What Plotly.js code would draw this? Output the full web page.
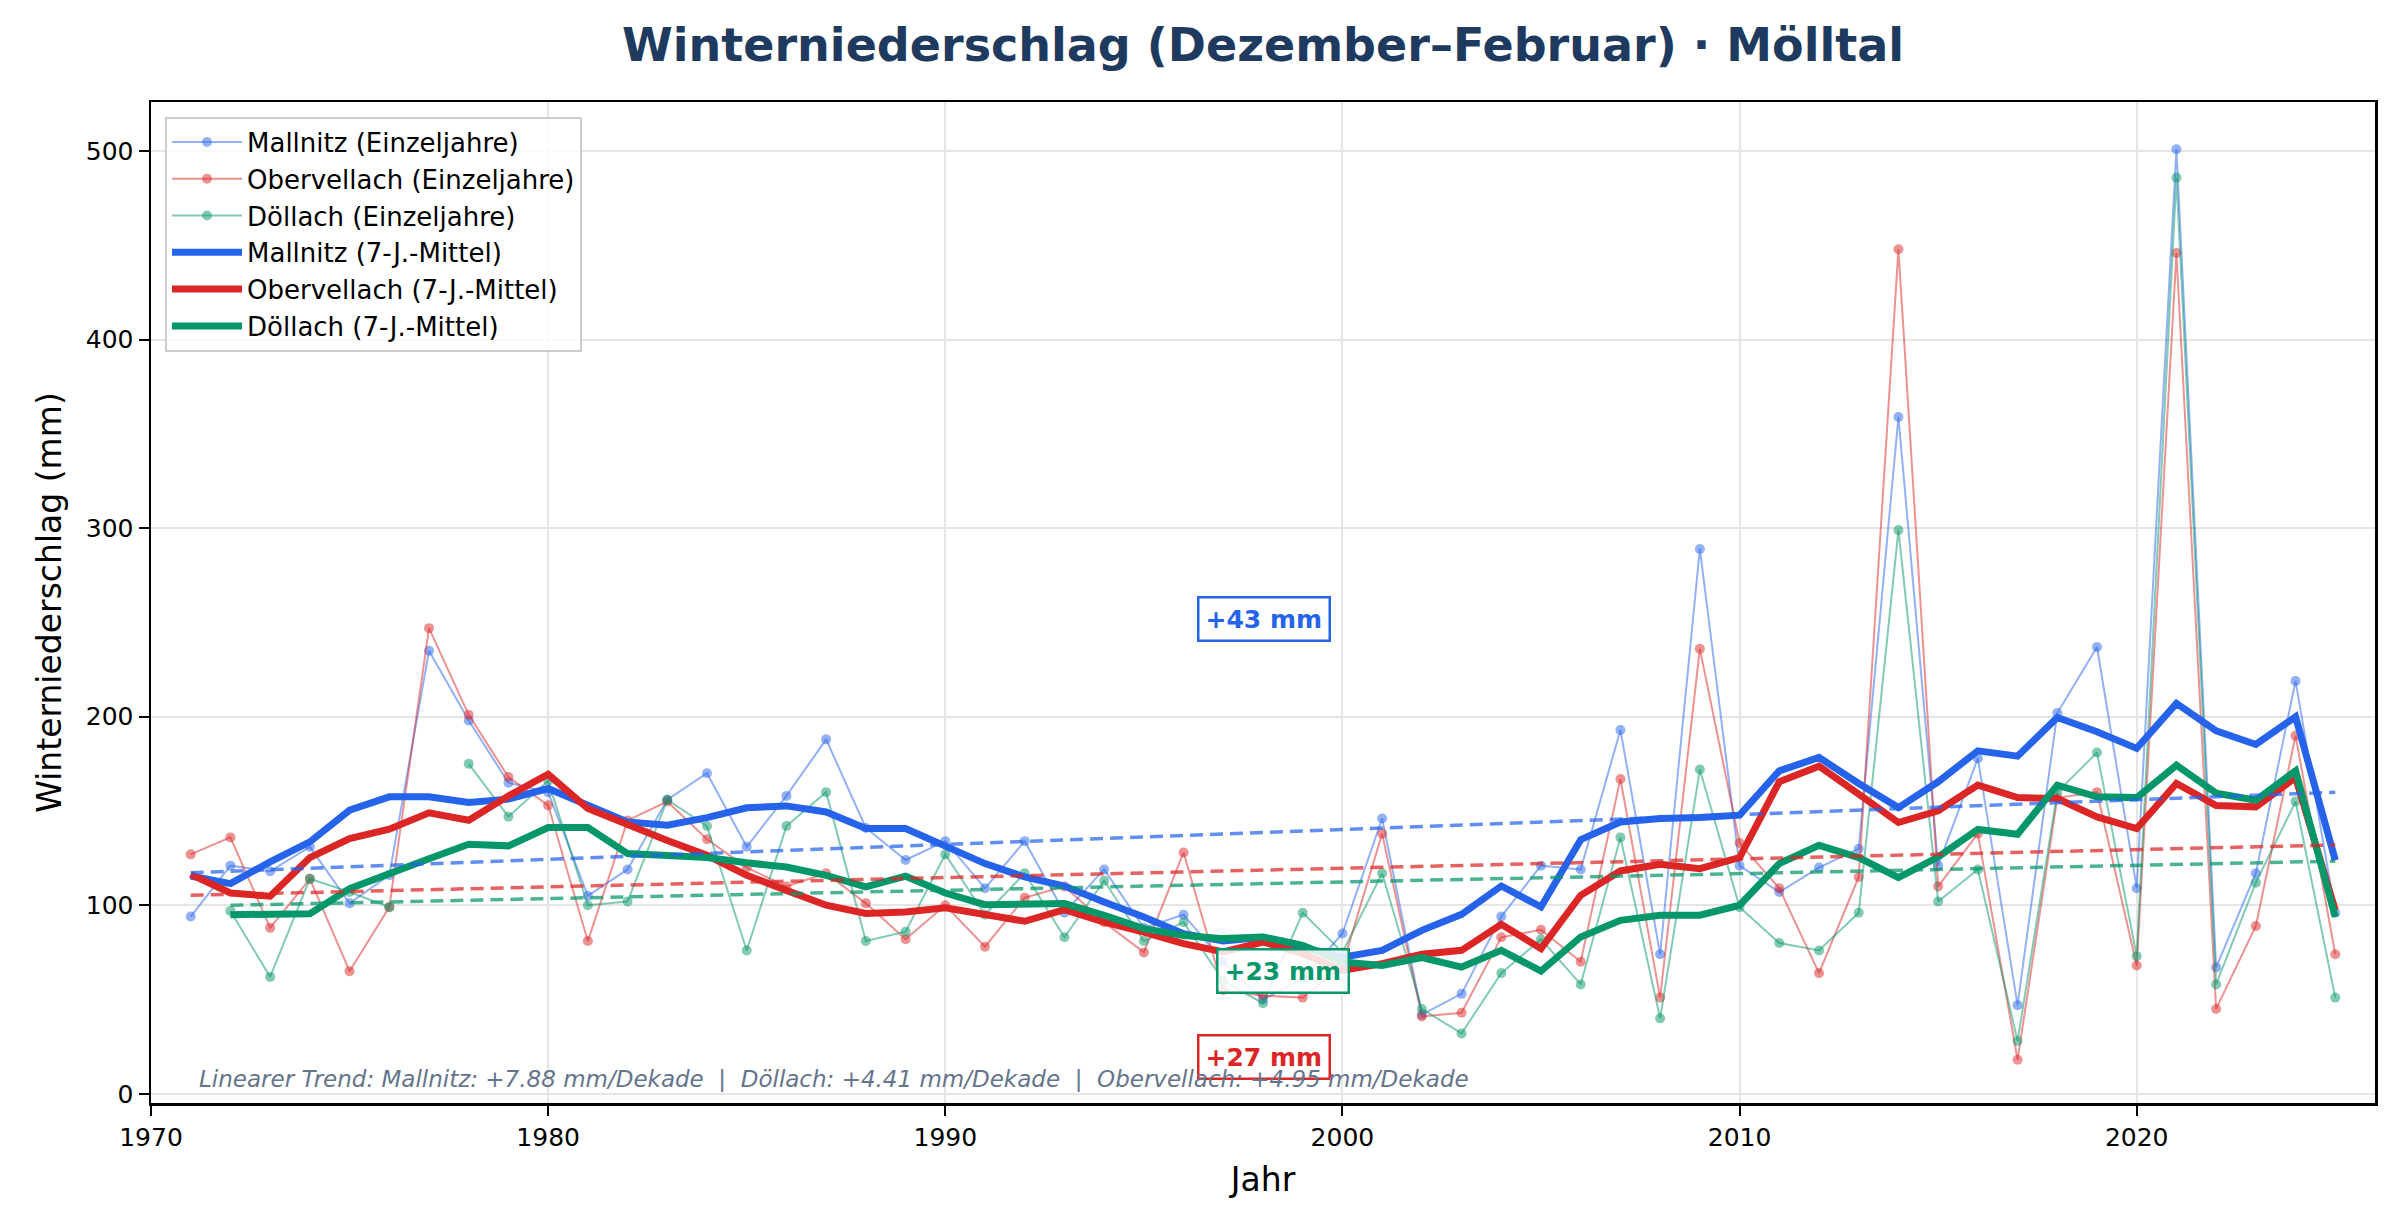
<!DOCTYPE html>
<html>
<head>
<meta charset="utf-8">
<script src="https://cdn.plot.ly/plotly-3.0.1.min.js"></script>
<style>html,body{margin:0;padding:0;background:#fff;}#chart{width:2398px;height:1231px;}</style>
</head>
<body>
<div id="chart"></div>
<script>
const years = [1971,1972,1973,1974,1975,1976,1977,1978,1979,1980,1981,1982,1983,1984,1985,1986,1987,1988,1989,1990,1991,1992,1993,1994,1995,1996,1997,1998,1999,2000,2001,2002,2003,2004,2005,2006,2007,2008,2009,2010,2011,2012,2013,2014,2015,2016,2017,2018,2019,2020,2021,2022,2023,2024,2025];

const mallnitz = [94,121,118,131,101,116,235,198,165,160,105,119,156,170,131,158,188,141,124,134,109,134,96,119,88,95,70,50,61,85,146,42,53,94,121,119,193,74,289,121,107,120,130,359,121,178,47,202,237,109,501,67,117,219,96];
const obervellach = [127,136,88,114,65,99,247,201,168,153,81,145,155,135,120,110,117,101,82,100,78,104,110,91,75,128,55,52,51,68,138,41,43,83,87,70,167,51,236,133,109,64,115,448,110,138,18,157,160,68,446,45,89,190,74];
const doellach = [null,97,62,114,107,99,null,175,147,166,100,102,156,142,76,142,160,81,86,127,95,117,83,113,81,91,60,48,96,75,117,45,32,64,82,58,136,40,172,99,80,76,96,299,102,119,28,160,181,73,486,58,112,155,51];

const mallnitzMA = [115.5,111.5,123,133.6,150.4,157.5,157.5,154.5,156.3,161.9,153.1,144.2,142.5,146.5,151.7,152.7,149.5,140.7,140.7,131.8,122.1,115,110.2,101.7,93.8,84.9,81,83,78,72.5,76,86.7,95.2,110.2,99.1,134.8,144.2,146,146.5,147.8,171.3,178.4,164.6,151.8,165.5,181.9,179.1,199.6,192,183.2,207.1,192.5,185.3,200,123.9];
const obervellachMA = [116.4,106.5,104.8,125.3,135.4,140.3,149,145.1,158,169.5,151.3,142.5,134.3,126.5,115.9,107.9,100,95.6,96.4,98.7,95.2,91.5,97.7,91.1,85.8,79.6,75.2,80.5,74.3,65.5,69,74,76.1,89.9,77,105.3,118.2,121.7,119.4,125.3,165.5,173.8,158.9,143.9,150.1,163.7,157.1,156.6,146.9,140.7,164.6,152.9,152.2,167.8,97.3];
const doellachMA = [null,95,95.2,95.5,108.8,117.1,124.7,132.4,131.5,141.2,141.2,127.4,126.5,125.3,122.5,120.3,115.9,109.7,115.4,106.5,100.3,100.3,100.9,94.7,87.6,84,82.3,83.2,78.7,69.9,68.1,72.2,67.2,76.1,65.1,83.2,92,94.7,94.7,100,122.1,131.8,125.3,114.7,125.6,140.2,137.7,163.7,157.5,157.1,174.3,159.5,155.7,171.3,93.8];

// linear trend lines (start / end values)
const trendMallnitzX = [1971, 2025], trendMallnitzY = [117.3, 159.9];
const trendObervellachX = [1971, 2025], trendObervellachY = [105.3, 132.0];
const trendDoellachX = [1972, 2025], trendDoellachY = [100.0, 123.4];

const trendLabels = ['+43 mm', '+23 mm', '+27 mm'];
const trendText = 'Linearer Trend: Mallnitz: +7.88 mm/Dekade\u00a0\u00a0|\u00a0\u00a0Döllach: +4.41 mm/Dekade\u00a0\u00a0|\u00a0\u00a0Obervellach: +4.95 mm/Dekade';

const C = {blue:'#2563eb', red:'#dc2626', green:'#059669'};
const A = {blue:'rgba(37,99,235,0.5)', red:'rgba(220,38,38,0.5)', green:'rgba(5,150,105,0.5)'};
const T = {blue:'rgba(37,99,235,0.72)', red:'rgba(220,38,38,0.72)', green:'rgba(5,150,105,0.72)'};
const FONT = 'DejaVu Sans, Verdana, sans-serif';

function single(name, y, col) {
  return {x: years, y: y, name: name, type: 'scatter', mode: 'lines+markers',
    line: {color: col, width: 2}, marker: {color: col, size: 10},
    connectgaps: false, hoverinfo: 'skip'};
}
function ma(name, y, col) {
  return {x: years, y: y, name: name, type: 'scatter', mode: 'lines',
    line: {color: col, width: 7}, hoverinfo: 'skip'};
}
function trend(x, y, col) {
  return {x: x, y: y, type: 'scatter', mode: 'lines', showlegend: false,
    line: {color: col, width: 3.5, dash: '13px,7px'}, hoverinfo: 'skip'};
}

const data = [
  single('Mallnitz (Einzeljahre)', mallnitz, A.blue),
  single('Obervellach (Einzeljahre)', obervellach, A.red),
  single('Döllach (Einzeljahre)', doellach, A.green),
  ma('Mallnitz (7-J.-Mittel)', mallnitzMA, C.blue),
  ma('Obervellach (7-J.-Mittel)', obervellachMA, C.red),
  ma('Döllach (7-J.-Mittel)', doellachMA, C.green),
  trend(trendMallnitzX, trendMallnitzY, T.blue),
  trend(trendObervellachX, trendObervellachY, T.red),
  trend(trendDoellachX, trendDoellachY, T.green)
];

function box(text, x, y, col) {
  return {x: x, y: y, xref: 'x', yref: 'y', text: '<b>' + text + '</b>', showarrow: false,
    font: {family: FONT, size: 25, color: col}, bgcolor: 'rgba(255,255,255,0.85)',
    bordercolor: col, borderwidth: 2.5, borderpad: 6, xanchor: 'center', yanchor: 'middle'};
}

const layout = {
  width: 2398, height: 1231,
  paper_bgcolor: '#ffffff', plot_bgcolor: '#ffffff',
  margin: {l: 151, r: 23, t: 102, b: 128},
  font: {family: FONT, size: 25, color: '#000'},
  title: {text: '<b>Winterniederschlag (Dezember–Februar) · Mölltal</b>',
    font: {family: FONT, size: 46, color: '#1e3a5f'},
    x: 0.5, xref: 'paper', y: 1 - 45 / 1231, yref: 'container', yanchor: 'middle'},
  xaxis: {range: [1970, 2026], tick0: 1970, dtick: 10, showgrid: true, gridcolor: '#e5e5e5', gridwidth: 2,
    zeroline: false, showline: true, mirror: true, linecolor: '#000', linewidth: 2.5,
    ticks: 'outside', ticklen: 10, tickwidth: 2, tickcolor: '#000',
    tickfont: {family: FONT, size: 25, color: '#000'},
    title: {text: 'Jahr', font: {family: FONT, size: 33, color: '#000'}, standoff: 18},
    automargin: false},
  yaxis: {range: [-4.9, 526.1], tick0: 0, dtick: 100, showgrid: true, gridcolor: '#e5e5e5', gridwidth: 2,
    zeroline: false, showline: true, mirror: true, linecolor: '#000', linewidth: 2.5,
    ticks: 'outside', ticklen: 10, tickwidth: 2, tickcolor: '#000',
    tickfont: {family: FONT, size: 25, color: '#000'},
    title: {text: 'Winterniederschlag (mm)', font: {family: FONT, size: 33, color: '#000'}, standoff: 14},
    automargin: false},
  legend: {x: 0.0063, y: 0.9855, xanchor: 'left', yanchor: 'top',
    bgcolor: 'rgba(255,255,255,0.8)', bordercolor: '#cccccc', borderwidth: 2,
    font: {family: FONT, size: 26, color: '#000'}, itemwidth: 70, tracegroupgap: 0},
  annotations: [
    box(trendLabels[0], 1998.02, 251.6, C.blue),
    box(trendLabels[1], 1998.51, 65.1, C.green),
    box(trendLabels[2], 1998.02, 19.3, C.red),
    {xref: 'paper', yref: 'paper', x: 0.0205, y: 0.009, xanchor: 'left', yanchor: 'bottom',
     text: trendText, showarrow: false,
     font: {family: FONT, size: 23, color: '#64748b', style: 'italic'}}
  ],
  showlegend: true
};

Plotly.newPlot('chart', data, layout, {displayModeBar: false, staticPlot: true});
</script>
</body>
</html>
